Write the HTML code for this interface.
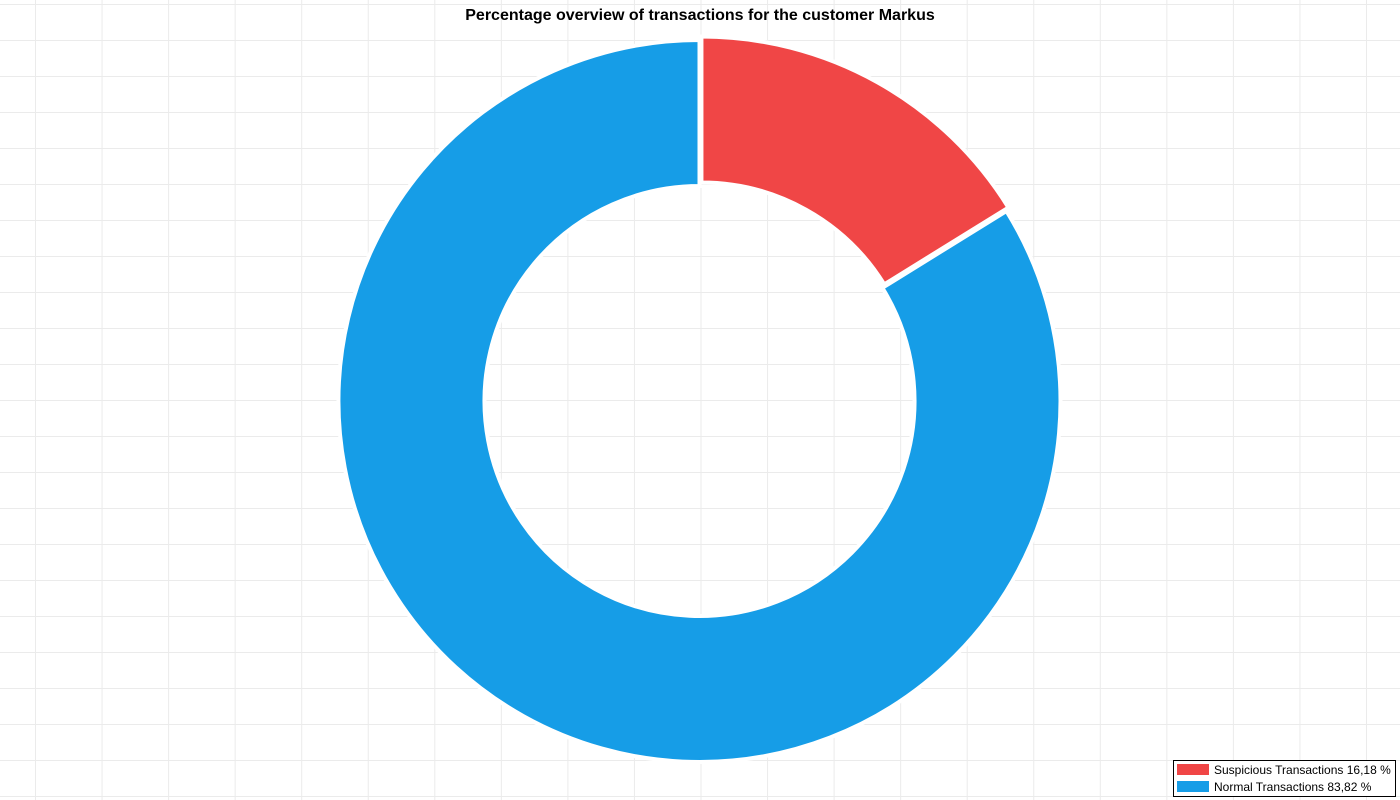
<!DOCTYPE html>
<html><head><meta charset="utf-8"><style>
html,body{margin:0;padding:0;background:#fff}
svg{display:block}
</style></head><body>
<svg id="chart" width="1400" height="800" xmlns="http://www.w3.org/2000/svg">
<g id="grid"></g>
<g id="slices"></g>
<text x="700" y="20" text-anchor="middle" font-family="Liberation Sans, sans-serif" font-size="16" font-weight="bold" fill="#000">Percentage overview of transactions for the customer Markus</text>
<g>
<rect x="1173.5" y="760.5" width="222" height="36" fill="#fff" stroke="#000" stroke-width="1"/>
<g>
<rect x="1177" y="764" width="32" height="11" fill="#f04646"/>
<text x="1214" y="774" font-family="Liberation Sans, sans-serif" font-size="12" fill="#000">Suspicious Transactions 16,18 %</text>
</g>
<g>
<rect x="1177" y="781" width="32" height="11" fill="#169de7"/>
<text x="1214" y="791" font-family="Liberation Sans, sans-serif" font-size="12" fill="#000">Normal Transactions 83,82 %</text>
</g>
</g>
</svg>
<script>
const categories = ["Suspicious Transactions", "Normal Transactions"];
const values = [16.18, 83.82];
const colors = ["#f04646", "#169de7"];
const NS = "http://www.w3.org/2000/svg";
const grid = document.getElementById("grid");
for (let x = 35.5; x < 1400; x += 66.55) {
  const l = document.createElementNS(NS, "line");
  l.setAttribute("x1", x); l.setAttribute("x2", x); l.setAttribute("y1", 0); l.setAttribute("y2", 800);
  l.setAttribute("stroke", "#ebebeb"); l.setAttribute("stroke-width", 1);
  
  
  grid.appendChild(l);
}
for (let y = 4.5; y < 800; y += 36) {
  const l = document.createElementNS(NS, "line");
  l.setAttribute("y1", y); l.setAttribute("y2", y); l.setAttribute("x1", 0); l.setAttribute("x2", 1400);
  l.setAttribute("stroke", "#ebebeb"); l.setAttribute("stroke-width", 1);
  
  
  grid.appendChild(l);
}
const cx = 699.5, cy = 401, R = 361, r = 215;
const total = values.reduce((a, b) => a + b, 0);
let start = -Math.PI / 2;
const g = document.getElementById("slices");
values.forEach((v, i) => {
  const ang = v / total * 2 * Math.PI;
  const end = start + ang;
  const mid = (start + end) / 2;
  const off = i === 0 ? 4 : 0;
  const ox = cx + off * Math.cos(mid), oy = cy + off * Math.sin(mid);
  const large = ang > Math.PI ? 1 : 0;
  const p = (rad, a) => [ox + rad * Math.cos(a), oy + rad * Math.sin(a)];
  const [x1, y1] = p(R, start), [x2, y2] = p(R, end), [x3, y3] = p(r, end), [x4, y4] = p(r, start);
  const d = `M${x1},${y1} A${R},${R} 0 ${large} 1 ${x2},${y2} L${x3},${y3} A${r},${r} 0 ${large} 0 ${x4},${y4} Z`;
  const path = document.createElementNS(NS, "path");
  path.setAttribute("d", d);
  path.setAttribute("fill", colors[i]);
  path.setAttribute("stroke", "#fff");
  path.setAttribute("stroke-width", 4);
  
  
  g.appendChild(path);
  start = end;
});
</script>
</body></html>
